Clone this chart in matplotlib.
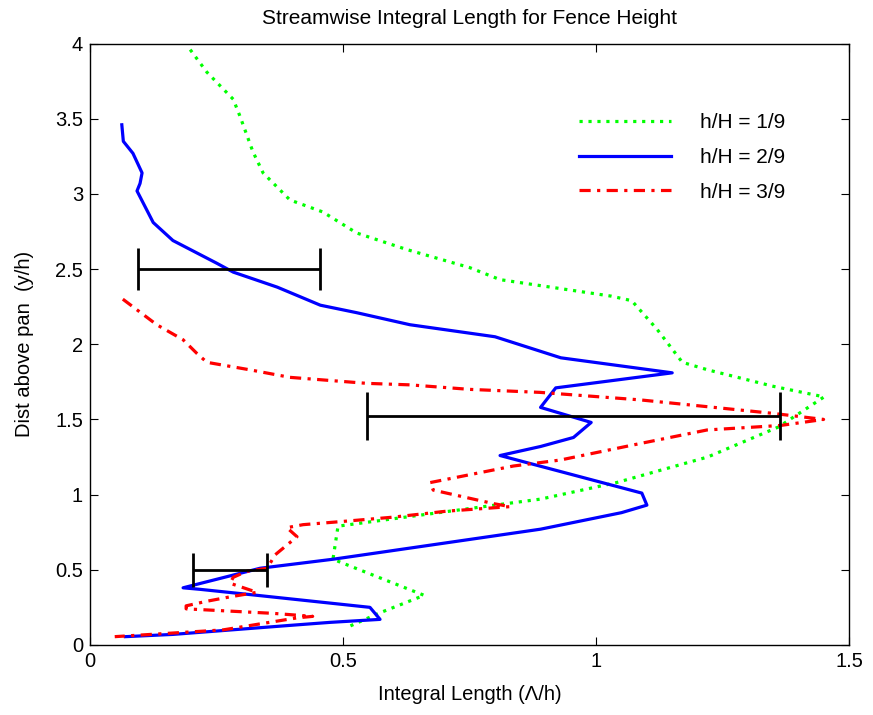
import matplotlib
matplotlib.use("Agg")
import matplotlib.pyplot as plt

plt.rcParams['font.family'] = ['Liberation Sans', 'DejaVu Sans']

# h/H = 1/9 (green dotted)
g_x = [0.198, 0.231, 0.283, 0.296, 0.322, 0.342, 0.395, 0.46, 0.527, 0.626, 0.75, 0.81, 1.03, 1.07,
       1.12, 1.17, 1.22, 1.35, 1.45, 1.36, 1.22, 1.04, 0.89, 0.80, 0.49, 0.48, 0.66, 0.57, 0.51]
g_y = [3.96, 3.81, 3.63, 3.52, 3.28, 3.14, 2.96, 2.88, 2.74, 2.63, 2.51, 2.43, 2.32, 2.29,
       2.10, 1.88, 1.83, 1.72, 1.65, 1.45, 1.25, 1.08, 0.97, 0.93, 0.79, 0.57, 0.33, 0.21, 0.12]

# h/H = 2/9 (blue solid)
b_x = [0.063, 0.066, 0.085, 0.103, 0.099, 0.093, 0.125, 0.164, 0.25, 0.283, 0.37, 0.455, 0.527, 0.632,
       0.80, 0.93, 1.15, 0.92, 0.89, 0.99, 0.955, 0.89, 0.81, 1.09, 1.10, 1.05, 0.89, 0.48, 0.336,
       0.184, 0.217, 0.33, 0.553, 0.573, 0.474, 0.395, 0.164, 0.07]
b_y = [3.46, 3.35, 3.27, 3.14, 3.07, 3.02, 2.81, 2.69, 2.54, 2.48, 2.38, 2.26, 2.21, 2.13,
       2.05, 1.91, 1.81, 1.71, 1.58, 1.48, 1.38, 1.32, 1.26, 1.01, 0.93, 0.88, 0.77, 0.57, 0.51,
       0.38, 0.37, 0.33, 0.25, 0.17, 0.15, 0.13, 0.07, 0.055]

# h/H = 3/9 (red dash-dot)
r_x = [0.065, 0.132, 0.184, 0.211, 0.231, 0.316, 0.395, 0.547, 0.632, 0.75, 0.889, 1.087, 1.35, 1.449,
       1.364, 1.219, 1.087, 0.929, 0.836, 0.672, 0.678, 0.797, 0.83, 0.705, 0.599, 0.494, 0.421, 0.389,
       0.409, 0.366, 0.35, 0.31, 0.283, 0.277, 0.33, 0.277, 0.23, 0.19, 0.19, 0.362, 0.44, 0.409,
       0.263, 0.049]
r_y = [2.30, 2.13, 2.03, 1.94, 1.88, 1.83, 1.78, 1.74, 1.73, 1.70, 1.68, 1.63, 1.54, 1.50,
       1.46, 1.43, 1.34, 1.23, 1.19, 1.08, 1.03, 0.94, 0.92, 0.89, 0.85, 0.82, 0.80, 0.78,
       0.72, 0.60, 0.51, 0.49, 0.45, 0.41, 0.35, 0.32, 0.29, 0.26, 0.24, 0.21, 0.19, 0.18,
       0.10, 0.055]

# error bars: centre, half width, height, cap size (pt)
err_x = [0.275, 0.955, 0.277]
err_xerr = [0.18, 0.408, 0.073]
err_y = [2.5, 1.52, 0.5]
err_caps = [15, 17, 12.5]

labels = ['h/H = 1/9', 'h/H = 2/9', 'h/H = 3/9']

fig = plt.figure(figsize=(8.73, 7.15), dpi=100)
ax = fig.add_axes([0.103, 0.098, 0.870, 0.841])

ax.plot(g_x, g_y, color='#00ff00', linestyle=(0, (1, 1.8)), linewidth=2.3, label=labels[0])
ax.plot(b_x, b_y, color='#0000ff', linestyle='-', linewidth=2.3, label=labels[1])
ax.plot(r_x, r_y, color='#ff0000', linestyle=(0, (3.5, 2, 1, 2)), linewidth=2.3, label=labels[2])

for x, xe, y, cs in zip(err_x, err_xerr, err_y, err_caps):
    ax.errorbar(x, y, xerr=xe, fmt='none', ecolor='black', elinewidth=2, capsize=cs, capthick=2)

ax.set_xlim(0, 1.5)
ax.set_ylim(0, 4)
ax.set_xticks([0, 0.5, 1, 1.5])
ax.set_xticklabels(['0', '0.5', '1', '1.5'])
ax.set_yticks([0, 0.5, 1, 1.5, 2, 2.5, 3, 3.5, 4])
ax.set_yticklabels(['0', '0.5', '1', '1.5', '2', '2.5', '3', '3.5', '4'])
ax.tick_params(direction='in', top=True, right=True, length=6, labelsize=14.5, pad=5)
for s in ax.spines.values():
    s.set_linewidth(1)

ax.set_title('Streamwise Integral Length for Fence Height', fontsize=15, pad=14)
ax.set_xlabel('Integral Length (\u039b/h)', fontsize=14.5, labelpad=10)
ax.set_ylabel('Dist above pan  (y/h)', fontsize=14.5, labelpad=15)

ax.legend(loc='upper right', bbox_to_anchor=(0.94, 0.915), frameon=False, fontsize=15,
          handlelength=4.4, handletextpad=1.4, labelspacing=0.75)

fig.savefig('out.png', dpi=100)
